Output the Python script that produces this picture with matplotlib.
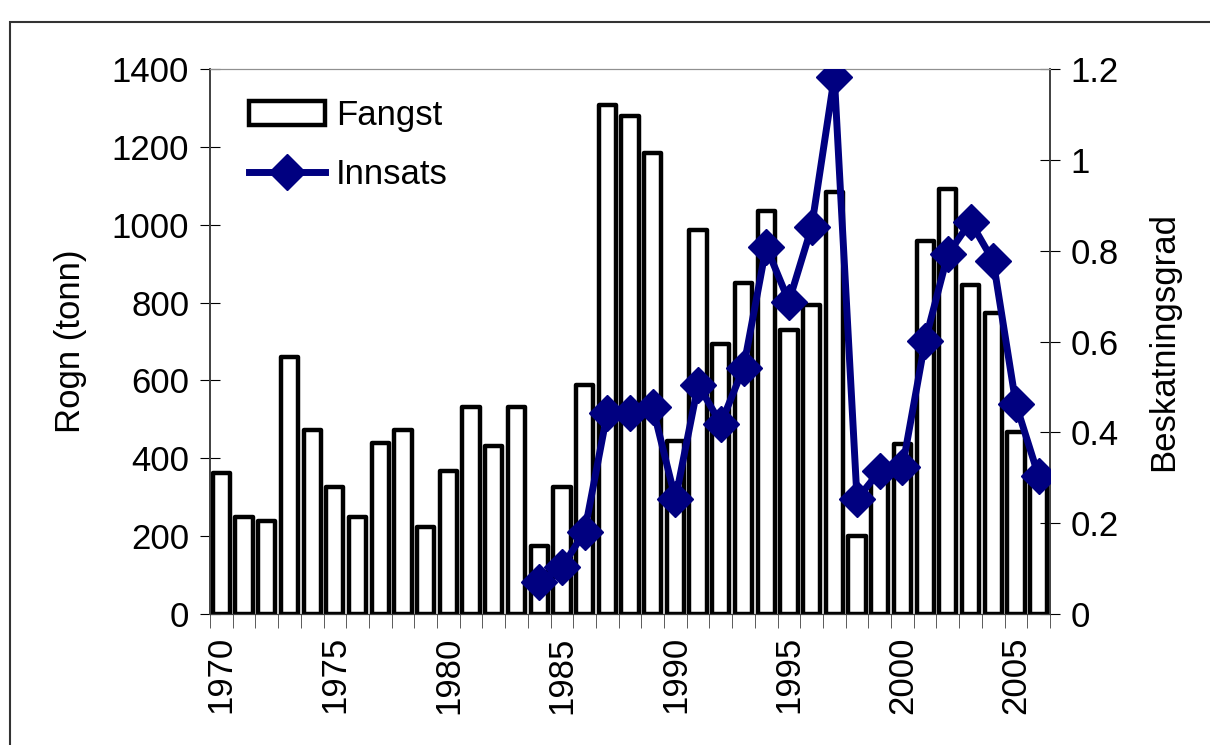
import matplotlib
matplotlib.use("Agg")
import matplotlib.pyplot as plt
import numpy as np
from matplotlib.patches import Rectangle
from matplotlib.ticker import FuncFormatter

plt.rcParams["font.family"] = ["Liberation Sans", "DejaVu Sans"]

# Catch of roe (tonnes) per year
years = list(range(1970, 2007))
fangst = [363, 248, 239, 659, 472, 325, 248, 439, 472, 224,
          367, 531, 432, 531, 174, 325, 589, 1307, 1279, 1185,
          445, 987, 694, 850, 1036, 729, 794, 1084, 200, 350,
          437, 959, 1092, 844, 774, 468, 340]

# Exploitation rate, series starts in 1984
innsats_years = list(range(1984, 2007))
innsats = [0.070, 0.103, 0.181, 0.443, 0.443, 0.455, 0.253, 0.505, 0.419, 0.542,
           0.809, 0.688, 0.852, 1.183, 0.253, 0.315, 0.323, 0.601, 0.792, 0.864,
           0.777, 0.462, 0.303]

year_labels = [1970, 1975, 1980, 1985, 1990, 1995, 2000, 2005]

navy = "#000080"
fs = 25

fig = plt.figure(figsize=(12.1, 7.45), dpi=100)
ax = fig.add_axes([210 / 1210, 1 - 614 / 745, 840 / 1210, 545 / 745])
ax2 = ax.twinx()

x = np.arange(len(years))
ax.bar(x, fangst, width=0.76, color="white", edgecolor="black",
       linewidth=3.2, joinstyle="round", label="Fangst", zorder=2)

xi = np.array([years.index(y) for y in innsats_years])
ax2.plot(xi, innsats, color=navy, lw=5, marker="D", markersize=18,
         label="Innsats", zorder=3)

ax.set_xlim(-0.5, len(years) - 0.5)
ax.set_ylim(0, 1400)
ax2.set_ylim(0, 1.2)

ax.set_yticks(np.arange(0, 1401, 200))
ax2.set_yticks(np.arange(0, 1.21, 0.2))
ax2.yaxis.set_major_formatter(FuncFormatter(lambda v, p: f"{v:g}"))

ax.set_xticks([years.index(y) for y in year_labels])
ax.set_xticklabels([str(y) for y in year_labels], rotation=90)
ax.set_xticks(np.arange(-0.5, len(years), 1), minor=True)
ax.tick_params(axis="x", which="major", length=0, labelsize=fs, pad=16)
ax.tick_params(axis="x", which="minor", length=10, direction="out", color="#404040")
ax.tick_params(axis="y", direction="inout", length=14, labelsize=fs, pad=8)
ax2.tick_params(axis="y", direction="inout", length=14, labelsize=fs, pad=8)

ax.set_ylabel("Rogn (tonn)", fontsize=fs, labelpad=18)
ax2.set_ylabel("Beskatningsgrad", fontsize=fs, labelpad=20)

for a in (ax, ax2):
    a.spines["top"].set_color("#909090")
    a.spines["left"].set_color("#404040")
    a.spines["right"].set_color("#404040")
    a.spines["bottom"].set_color("#404040")
    a.spines["left"].set_linewidth(1.2)
    a.spines["right"].set_linewidth(1.2)

h1, l1 = ax.get_legend_handles_labels()
h2, l2 = ax2.get_legend_handles_labels()
ax2.legend(h1 + h2, l1 + l2, loc="upper left", frameon=False, fontsize=fs,
           handlelength=2.2, handleheight=0.7, handletextpad=0.3,
           labelspacing=0.75, borderaxespad=0, bbox_to_anchor=(0.03, 0.97))

# outer chart frame
fig.add_artist(Rectangle((10 / 1210, -0.1), 1.2, 1.1 - 22 / 745,
                         transform=fig.transFigure, fill=False,
                         edgecolor="#333333", linewidth=1.5))

fig.savefig("out.png", dpi=100)
